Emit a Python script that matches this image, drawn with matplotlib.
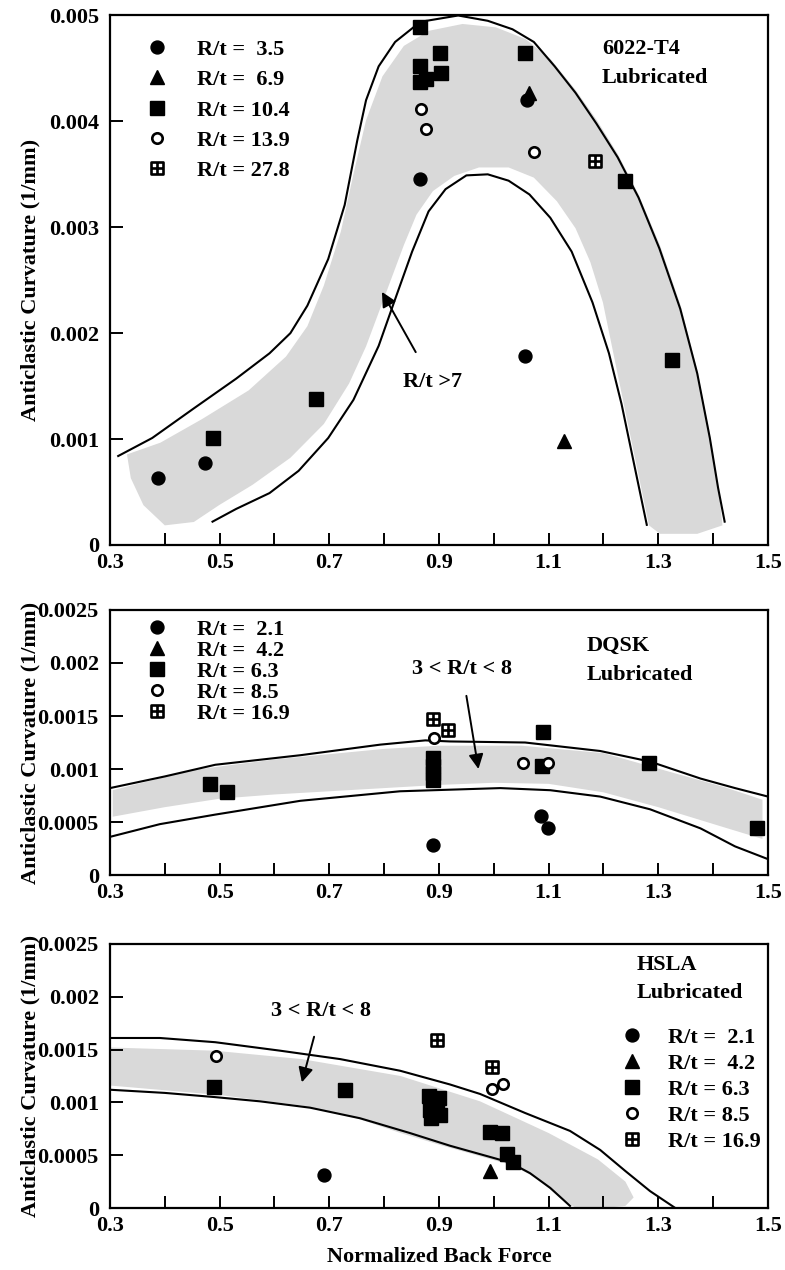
import matplotlib
matplotlib.use("Agg")
import matplotlib.pyplot as plt
from matplotlib.path import Path
from matplotlib.patches import Polygon

plt.rcParams["font.family"] = ["Liberation Serif", "DejaVu Serif"]
plt.rcParams["font.weight"] = "bold"

# ---------------- 6022-T4 (top panel) ----------------
A_RT35_X = [0.388, 0.474, 0.865, 1.056, 1.061]
A_RT35_Y = [0.00063, 0.000775, 0.00346, 0.00178, 0.00420]
A_RT69_X = [1.128, 1.064]
A_RT69_Y = [0.00098, 0.00427]
A_RT104_X = [0.487, 0.675, 0.865, 0.901, 0.903, 0.866, 0.866, 0.876, 1.056, 1.240, 1.325]
A_RT104_Y = [0.00101, 0.00138, 0.00489, 0.00465, 0.00446, 0.00452, 0.00437, 0.00440, 0.00465,
             0.00344, 0.00175]
A_RT139_X = [0.868, 0.876, 1.073]
A_RT139_Y = [0.00412, 0.00393, 0.00371]
A_RT278_X = [1.184]
A_RT278_Y = [0.00363]

A_UP_X = [0.315, 0.377, 0.453, 0.530, 0.591, 0.629, 0.660, 0.698, 0.728, 0.751, 0.767, 0.790,
          0.820, 0.866, 0.935, 0.989, 1.034, 1.073, 1.111, 1.149, 1.187, 1.226, 1.264, 1.302,
          1.340, 1.371, 1.394, 1.409, 1.421]
A_UP_Y = [0.00084, 0.00101, 0.00129, 0.00157, 0.00181, 0.00200, 0.00226, 0.00270, 0.00321,
          0.00382, 0.00420, 0.00452, 0.00475, 0.00494, 0.00500, 0.00495, 0.00487, 0.00475,
          0.00452, 0.00427, 0.00398, 0.00366, 0.00328, 0.00280, 0.00223, 0.00162, 0.00101,
          0.00054, 0.00022]
A_LO_X = [0.487, 0.530, 0.591, 0.644, 0.698, 0.744, 0.790, 0.820, 0.851, 0.881, 0.912, 0.950,
          0.989, 1.027, 1.065, 1.103, 1.142, 1.180, 1.210, 1.233, 1.256, 1.279]
A_LO_Y = [0.00022, 0.00034, 0.00049, 0.00070, 0.00101, 0.00137, 0.00188, 0.00232, 0.00277,
          0.00315, 0.00336, 0.00349, 0.00350, 0.00344, 0.00331, 0.00309, 0.00277, 0.00229,
          0.00181, 0.00133, 0.00076, 0.00019]
A_BAND_X = [0.400, 0.361, 0.338, 0.331, 0.392, 0.468, 0.553, 0.621, 0.660, 0.690, 0.721,
            0.744, 0.767, 0.797, 0.836, 0.882, 0.943, 1.004, 1.058, 1.104, 1.149, 1.188,
            1.226, 1.264, 1.303, 1.341, 1.371, 1.394, 1.410, 1.417, 1.371, 1.303, 1.283,
            1.260, 1.237, 1.218, 1.199, 1.176, 1.149, 1.115, 1.073, 1.027, 0.973, 0.928,
            0.889, 0.859, 0.836, 0.813, 0.790, 0.767, 0.736, 0.690, 0.629, 0.560, 0.499, 0.453]
A_BAND_Y = [0.000185, 0.000376, 0.000631, 0.000855, 0.000966, 0.001189, 0.00146, 0.001779,
            0.002066, 0.002449, 0.002959, 0.003501, 0.004011, 0.004426, 0.004713, 0.004856,
            0.00492, 0.004888, 0.004777, 0.004585, 0.004298, 0.004011, 0.003693, 0.00331,
            0.002831, 0.002258, 0.001652, 0.001046, 0.000536, 0.000185, 0.000105, 0.000105,
            0.000185, 0.000759, 0.001333, 0.001811, 0.00229, 0.002672, 0.002991, 0.003246,
            0.003469, 0.003565, 0.003565, 0.003485, 0.003342, 0.003119, 0.002832, 0.002513,
            0.002194, 0.001875, 0.001524, 0.001142, 0.000823, 0.000568, 0.000376, 0.000217]

# ---------------- DQSK (middle panel) ----------------
B_RT21_X = [0.889, 1.086, 1.099]
B_RT21_Y = [0.000285, 0.00056, 0.00044]
B_RT42_X = []
B_RT42_Y = []
B_RT63_X = [0.482, 0.514, 0.890, 0.890, 0.890, 0.890, 1.090, 1.088, 1.283, 1.480]
B_RT63_Y = [0.00086, 0.00078, 0.00110, 0.00103, 0.00096, 0.00090, 0.00135, 0.00103, 0.00106, 0.00044]
B_RT85_X = [0.891, 1.053, 1.099]
B_RT85_Y = [0.00129, 0.00106, 0.00106]
B_RT169_X = [0.889, 0.916]
B_RT169_Y = [0.00147, 0.00137]

B_UP_X = [0.30, 0.40, 0.492, 0.647, 0.793, 0.875, 0.92, 1.057, 1.194, 1.285, 1.377, 1.44, 1.50]
B_UP_Y = [0.00082, 0.00093, 0.00104, 0.00113, 0.00123, 0.00127, 0.00126, 0.00125, 0.00117,
          0.00107, 0.00091, 0.00082, 0.00074]
B_LO_X = [0.30, 0.391, 0.492, 0.528, 0.647, 0.829, 1.012, 1.103, 1.194, 1.285, 1.377, 1.44, 1.50]
B_LO_Y = [0.00036, 0.00048, 0.00057, 0.00060, 0.00070, 0.00079, 0.00082, 0.00080, 0.00074,
          0.00062, 0.00044, 0.00027, 0.00015]
B_BAND_X = [0.305, 0.45, 0.60, 0.80, 0.90, 1.05, 1.20, 1.33, 1.42, 1.49,
            1.49, 1.42, 1.30, 1.20, 1.10, 1.00, 0.90, 0.80, 0.60, 0.50, 0.40, 0.305]
B_BAND_Y = [0.00080, 0.00099, 0.00109, 0.00119, 0.00122, 0.00122, 0.00115, 0.00096, 0.00083,
            0.00071, 0.00034, 0.00045, 0.00064, 0.00078, 0.00086, 0.00087, 0.00085, 0.00082,
            0.00076, 0.00072, 0.00064, 0.00055]

# ---------------- HSLA (bottom panel) ----------------
C_RT21_X = [0.690]
C_RT21_Y = [0.00031]
C_RT42_X = [0.993]
C_RT42_Y = [0.00035]
C_RT63_X = [0.490, 0.729, 0.882, 0.900, 0.897, 0.884, 0.902, 0.886, 0.993, 1.015, 1.024, 1.035]
C_RT63_Y = [0.00115, 0.00112, 0.00106, 0.00104, 0.00095, 0.00093, 0.00088, 0.00085, 0.00072,
            0.00071, 0.00051, 0.00044]
C_RT85_X = [0.494, 0.997, 1.017]
C_RT85_Y = [0.00144, 0.00113, 0.00117]
C_RT169_X = [0.896, 0.997]
C_RT169_Y = [0.00159, 0.00134]

C_UP_X = [0.30, 0.391, 0.492, 0.61, 0.72, 0.829, 0.92, 0.975, 1.057, 1.139, 1.194, 1.24, 1.285, 1.331]
C_UP_Y = [0.00161, 0.00161, 0.00157, 0.00149, 0.00141, 0.00130, 0.00117, 0.00108, 0.00090,
          0.00073, 0.00055, 0.00035, 0.00016, 0.0]
C_LO_X = [0.30, 0.40, 0.492, 0.574, 0.665, 0.756, 0.847, 0.92, 0.975, 1.03, 1.066, 1.103, 1.139]
C_LO_Y = [0.00112, 0.00109, 0.00105, 0.00101, 0.00095, 0.00085, 0.00071, 0.00059, 0.00051,
          0.00043, 0.00033, 0.00019, 0.00002]
C_BAND_X = [0.30, 0.49, 0.65, 0.83, 0.975, 1.10, 1.19, 1.24, 1.255, 1.24, 1.20, 1.15,
            1.12, 1.08, 1.03, 0.975, 0.90, 0.83, 0.75, 0.65, 0.50, 0.30]
C_BAND_Y = [0.00152, 0.00149, 0.00141, 0.00125, 0.00101, 0.00071, 0.00046, 0.00025, 0.00010,
            0.00002, 0.0, 0.0, 0.00010, 0.00028, 0.00041, 0.00049, 0.00060, 0.00071, 0.00085,
            0.00097, 0.00107, 0.00116]

X_TICKS = [0.3, 0.4, 0.5, 0.6, 0.7, 0.8, 0.9, 1.0, 1.1, 1.2, 1.3, 1.4, 1.5]
X_LABELS = ["0.3", "", "0.5", "", "0.7", "", "0.9", "", "1.1", "", "1.3", "", "1.5"]
Y_TICKS_A = [0, 0.001, 0.002, 0.003, 0.004, 0.005]
Y_LABELS_A = ["0", "0.001", "0.002", "0.003", "0.004", "0.005"]
Y_TICKS_BC = [0, 0.0005, 0.001, 0.0015, 0.002, 0.0025]
Y_LABELS_BC = ["0", "0.0005", "0.001", "0.0015", "0.002", "0.0025"]

LABELS_A = ["R/t =  3.5", "R/t =  6.9", "R/t = 10.4", "R/t = 13.9", "R/t = 27.8"]
LABELS_BC = ["R/t =  2.1", "R/t =  4.2", "R/t = 6.3", "R/t = 8.5", "R/t = 16.9"]

BAND_GRAY = "#d9d9d9"
FS = 16

# square with a cross inside, as in the original symbol
BOXPLUS = Path(
    [(-1, -1), (1, -1), (1, 1), (-1, 1), (-1, -1), (0, -1), (0, 1), (-1, 0), (1, 0)],
    [Path.MOVETO, Path.LINETO, Path.LINETO, Path.LINETO, Path.CLOSEPOLY,
     Path.MOVETO, Path.LINETO, Path.MOVETO, Path.LINETO],
)


def draw_panel(ax, series, labels, band, upper, lower, yticks, ylabels):
    ax.add_patch(Polygon(list(zip(*band)), closed=True, facecolor=BAND_GRAY,
                         edgecolor="none", zorder=1))
    ax.plot(*upper, color="black", lw=1.5, zorder=2)
    ax.plot(*lower, color="black", lw=1.5, zorder=2)

    styles = [
        dict(marker="o", ms=9.3, mfc="black", mec="black"),
        dict(marker="^", ms=9.5, mfc="black", mec="black"),
        dict(marker="s", ms=10.5, mfc="black", mec="black"),
        dict(marker="o", ms=7.5, mfc="white", mec="black", mew=1.9),
        dict(marker=BOXPLUS, ms=8.5, mfc="white", mec="black", mew=1.9),
    ]
    handles = []
    for (xs, ys), lab, st in zip(series, labels, styles):
        (h,) = ax.plot(xs, ys, ls="none", label=lab, zorder=3, **st)
        handles.append(h)

    ax.set_xlim(0.3, 1.5)
    ax.set_ylim(yticks[0], yticks[-1])
    ax.set_xticks(X_TICKS)
    ax.set_xticklabels(X_LABELS)
    ax.set_yticks(yticks)
    ax.set_yticklabels(ylabels)
    ax.tick_params(axis="both", direction="in", length=9, width=1.4, labelsize=FS)
    ax.tick_params(axis="y", pad=8)
    ax.tick_params(axis="x", pad=6)
    for sp in ax.spines.values():
        sp.set_linewidth(1.6)
    ax.set_ylabel("Anticlastic Curvature (1/mm)", fontsize=FS, fontweight="bold")
    ax.yaxis.set_label_coords(-0.105, 0.5)
    return handles


fig = plt.figure(figsize=(7.85, 12.7), dpi=100)
ax1 = fig.add_axes([0.1401, 0.5709, 0.8382, 0.4169])
ax2 = fig.add_axes([0.1401, 0.3110, 0.8382, 0.2087])
ax3 = fig.add_axes([0.1401, 0.0488, 0.8382, 0.2079])

h1 = draw_panel(
    ax1,
    [(A_RT35_X, A_RT35_Y), (A_RT69_X, A_RT69_Y), (A_RT104_X, A_RT104_Y),
     (A_RT139_X, A_RT139_Y), (A_RT278_X, A_RT278_Y)],
    LABELS_A, (A_BAND_X, A_BAND_Y), (A_UP_X, A_UP_Y), (A_LO_X, A_LO_Y),
    Y_TICKS_A, Y_LABELS_A,
)
ax1.legend(handles=h1, loc="upper left", bbox_to_anchor=(0.055, 0.955), frameon=False,
           fontsize=FS, handlelength=1.0, handletextpad=1.3, labelspacing=0.44,
           borderpad=0, borderaxespad=0)
ax1.text(1.197, 0.00468, "6022-T4", ha="left", va="center", fontsize=FS)
ax1.text(1.197, 0.00441, "Lubricated", ha="left", va="center", fontsize=FS)
ax1.annotate("R/t >7", xy=(0.796, 0.00239), xytext=(0.888, 0.00154), ha="center", va="center",
             fontsize=FS,
             arrowprops=dict(arrowstyle="-|>", color="black", lw=1.4, mutation_scale=22,
                             shrinkA=14, shrinkB=0))

h2 = draw_panel(
    ax2,
    [(B_RT21_X, B_RT21_Y), (B_RT42_X, B_RT42_Y), (B_RT63_X, B_RT63_Y),
     (B_RT85_X, B_RT85_Y), (B_RT169_X, B_RT169_Y)],
    LABELS_BC, (B_BAND_X, B_BAND_Y), (B_UP_X, B_UP_Y), (B_LO_X, B_LO_Y),
    Y_TICKS_BC, Y_LABELS_BC,
)
ax2.legend(handles=h2, loc="upper left", bbox_to_anchor=(0.055, 0.965), frameon=False,
           fontsize=FS, handlelength=1.0, handletextpad=1.3, labelspacing=0.02,
           borderpad=0, borderaxespad=0)
ax2.text(1.17, 0.00216, "DQSK", ha="left", va="center", fontsize=FS)
ax2.text(1.17, 0.00189, "Lubricated", ha="left", va="center", fontsize=FS)
ax2.annotate("3 < R/t < 8", xy=(0.972, 0.00100), xytext=(0.942, 0.00194), ha="center",
             va="center", fontsize=FS,
             arrowprops=dict(arrowstyle="-|>", color="black", lw=1.4, mutation_scale=22,
                             shrinkA=10, shrinkB=0))

h3 = draw_panel(
    ax3,
    [(C_RT21_X, C_RT21_Y), (C_RT42_X, C_RT42_Y), (C_RT63_X, C_RT63_Y),
     (C_RT85_X, C_RT85_Y), (C_RT169_X, C_RT169_Y)],
    LABELS_BC, (C_BAND_X, C_BAND_Y), (C_UP_X, C_UP_Y), (C_LO_X, C_LO_Y),
    Y_TICKS_BC, Y_LABELS_BC,
)
ax3.legend(handles=h3, loc="upper left", bbox_to_anchor=(0.777, 0.685), frameon=False,
           fontsize=FS, handlelength=1.0, handletextpad=1.1, labelspacing=0.25,
           borderpad=0, borderaxespad=0)
ax3.text(1.261, 0.0023, "HSLA", ha="left", va="center", fontsize=FS)
ax3.text(1.261, 0.00204, "Lubricated", ha="left", va="center", fontsize=FS)
ax3.annotate("3 < R/t < 8", xy=(0.65, 0.00119), xytext=(0.685, 0.00187), ha="center",
             va="center", fontsize=FS,
             arrowprops=dict(arrowstyle="-|>", color="black", lw=1.4, mutation_scale=22,
                             shrinkA=10, shrinkB=0))
ax3.set_xlabel("Normalized Back Force", fontsize=FS, fontweight="bold", labelpad=8)

fig.savefig("out.png", dpi=100)
